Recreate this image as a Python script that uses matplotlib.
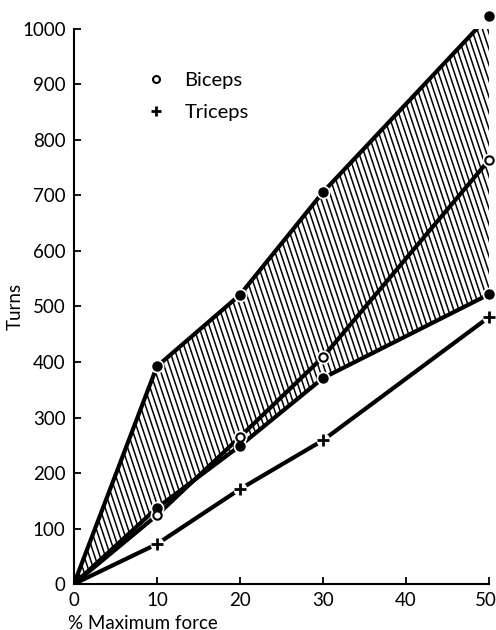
import numpy as np
import matplotlib.pyplot as plt
import matplotlib.transforms as mtransforms
from matplotlib.lines import Line2D

plt.rcParams['font.family'] = ['Lato', 'DejaVu Sans']

force = [0, 10, 20, 30, 50]  # % maximum force
upper = [0, 392, 521, 706, 1024]  # upper edge of shaded band
lower = [0, 137, 249, 371, 522]  # lower edge of shaded band
biceps = [0, 124, 265, 409, 764]
triceps = [0, 72, 171, 259, 481]

fig = plt.figure(figsize=(4.96, 6.30), dpi=100)
ax = fig.add_axes([0.149, 0.073, 0.837, 0.881])

# band between upper and lower, hatched with steep lines clipped to it
band = ax.fill_between(force, lower, upper, facecolor='none', edgecolor='none')
slope = -44.9  # steep "\" hatch in data units
for c in np.arange(-26, 52, 0.64):
    hx = np.array([c, c + 1100 / -slope])
    hy = 1100 + slope * (hx - c)
    hl, = ax.plot(hx, hy, color='black', lw=1.1, zorder=1)
    hl.set_clip_path(band.get_paths()[0], ax.transData)

lw = 3.0
for ys in (upper, lower, biceps, triceps):
    ax.plot(force, ys, color='black', lw=lw, solid_capstyle='butt', zorder=2)

# white halos so lines break around markers
for ys in (upper, lower, biceps, triceps):
    ax.plot(force[1:], ys[1:], 'o', ms=10, color='white', mec='none', zorder=3, clip_on=False)

ax.plot(force[1:], upper[1:], 'o', ms=6.5, color='black', zorder=4, clip_on=False)
ax.plot(force[1:], lower[1:], 'o', ms=6.5, color='black', zorder=4, clip_on=False)
ax.plot(force[1:], biceps[1:], 'o', ms=6, mfc='white', mec='black', mew=1.5, zorder=4, clip_on=False)
ax.plot(force[1:], triceps[1:], '+', ms=8, color='black', mew=2, zorder=4, clip_on=False)

ax.set_xlim(0, 50)
ax.set_ylim(0, 1000)
ax.set_xticks([0, 10, 20, 30, 40, 50])
ax.set_yticks(np.arange(0, 1001, 100))
ax.spines['top'].set_visible(False)
ax.spines['right'].set_visible(False)
ax.spines['left'].set_linewidth(1.5)
ax.spines['bottom'].set_linewidth(1.5)
ax.tick_params(direction='in', length=5, width=1.3, labelsize=13.5, pad=6)

# nudge the last x label so it stays inside the figure
last = ax.get_xticklabels()[-1]
last.set_transform(last.get_transform() + mtransforms.ScaledTranslation(-0.03, 0, fig.dpi_scale_trans))

ax.set_ylabel('Turns', fontsize=13.5)
ax.yaxis.set_label_coords(-0.12, 0.5)
ax.set_xlabel('% Maximum force', fontsize=13.5, ha='left')
ax.xaxis.set_label_coords(-0.015, -0.055)

handles = [Line2D([], [], ls='none', marker='o', ms=5, mfc='white', mec='black', mew=1.5),
           Line2D([], [], ls='none', marker='+', ms=7, color='black', mew=2)]
ax.legend(handles, ['Biceps', 'Triceps'], frameon=False, fontsize=14.5,
          loc='upper left', bbox_to_anchor=(0.13, 0.955), handlelength=1.0,
          handletextpad=0.9, labelspacing=0.75)

fig.savefig('out.png', dpi=100)
